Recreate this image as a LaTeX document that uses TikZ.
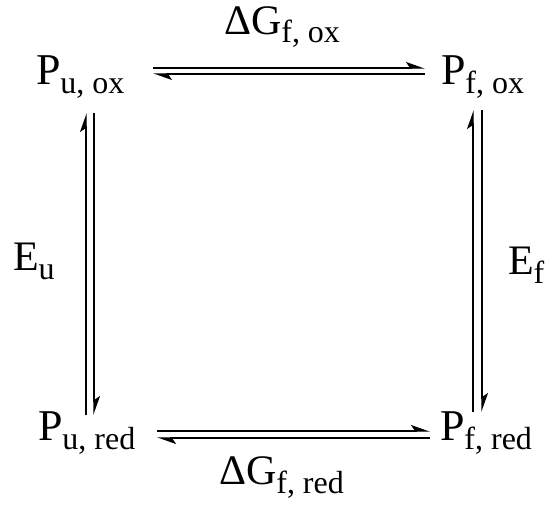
\documentclass[tikz,border=0pt]{standalone}
\usepackage{fontspec}
\setmainfont{Liberation Serif}
\usetikzlibrary{arrows.meta}
\newcommand{\myLab}[3]{{\fontsize{#3}{#3}\selectfont #1}\raisebox{-9pt}{\fontsize{32}{32}\selectfont #2}}
\tikzset{
  lab/.style={anchor=base west, inner sep=0pt, outer sep=0pt},
  harp/.style={line width=1.4pt, -{Stealth[harpoon,length=17pt,width=12pt,inset=4pt]}},
}
\begin{document}
\begin{tikzpicture}[x=1pt,y=-1pt]
\useasboundingbox (0,0) rectangle (553,506);
\node[lab] (uox) at (36,84) {\myLab{P}{u, ox}{44}};
\node[lab] (fox) at (441,84) {\myLab{P}{f, ox}{44}};
\node[lab] (ured) at (38,440) {\myLab{P}{u, red}{44}};
\node[lab] (fred) at (440,440) {\myLab{P}{f, red}{44}};
\node[lab] (gox) at (224,34) {\myLab{ΔG}{f, ox}{42}};
\node[lab] (gred) at (219,484) {\myLab{ΔG}{f, red}{42}};
\node[lab] (eu) at (13,270) {\myLab{E}{u}{42}};
\node[lab] (ef) at (508,274) {\myLab{E}{f}{42}};
% horizontal top
\coordinate (t1) at (153,68); \coordinate (t2) at (425,68);
\coordinate (t3) at (425,74); \coordinate (t4) at (153,74);
\draw[harp] (t1) -- (t2);
\draw[harp] (t3) -- (t4);
% horizontal bottom
\coordinate (b1) at (157,431); \coordinate (b2) at (430,431);
\coordinate (b3) at (430,438); \coordinate (b4) at (157,438);
\draw[harp] (b1) -- (b2);
\draw[harp] (b3) -- (b4);
% left vertical
\coordinate (l1) at (86,415); \coordinate (l2) at (86,113);
\coordinate (l3) at (94,113); \coordinate (l4) at (94,415);
\draw[harp] (l1) -- (l2);
\draw[harp] (l3) -- (l4);
% right vertical
\coordinate (r1) at (473,412); \coordinate (r2) at (473,110);
\coordinate (r3) at (482,110); \coordinate (r4) at (482,412);
\draw[harp] (r1) -- (r2);
\draw[harp] (r3) -- (r4);
\end{tikzpicture}
\end{document}
